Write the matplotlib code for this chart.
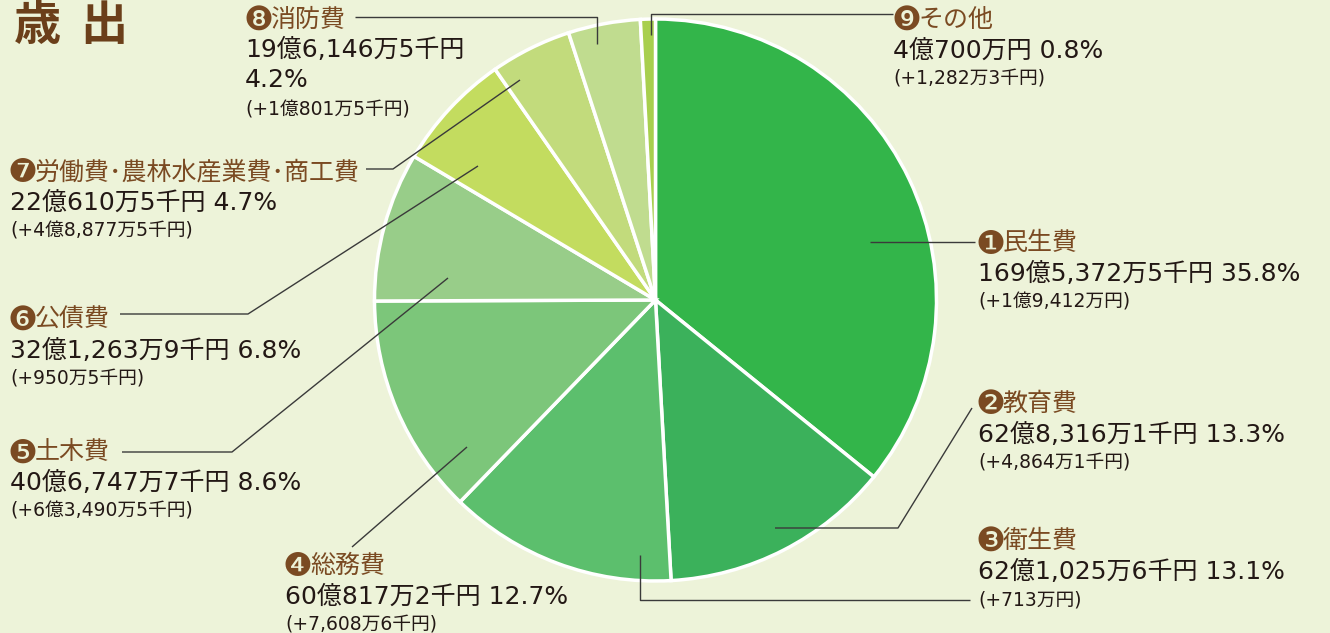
import numpy as np
import matplotlib.pyplot as plt

plt.rcParams["font.family"] = ["Noto Sans CJK JP", "DejaVu Sans"]

# --- data (amounts in 万円) ---
marks = ["❶", "❷", "❸", "❹", "❺", "❻", "❼", "❽", "❾"]
names = ["民生費", "教育費", "衛生費", "総務費", "土木費", "公債費",
         "労働費･農林水産業費･商工費", "消防費", "その他"]
amounts = [1695372.5, 628316.1, 621025.6, 600817.2, 406747.7,
           321263.9, 220610.5, 196146.5, 40700.0]
amount_text = ["169億5,372万5千円", "62億8,316万1千円", "62億1,025万6千円",
               "60億817万2千円", "40億6,747万7千円", "32億1,263万9千円",
               "22億610万5千円", "19億6,146万5千円", "4億700万円"]
percents = ["35.8%", "13.3%", "13.1%", "12.7%", "8.6%", "6.8%", "4.7%", "4.2%", "0.8%"]
changes = ["(+1億9,412万円)", "(+4,864万1千円)", "(+713万円)", "(+7,608万6千円)",
           "(+6億3,490万5千円)", "(+950万5千円)", "(+4億8,877万5千円)",
           "(+1億801万5千円)", "(+1,282万3千円)"]
colors = ["#33B54A", "#3BB15B", "#5CBF6D", "#7CC67A", "#98CD89",
          "#C3DC5F", "#C2DB7C", "#C0DC8F", "#A8CF4E"]

BG = "#EDF3D9"
BROWN = "#7A4A22"
DARK = "#231815"
LINE = "#3a3a3a"
NUMFONT = ["DejaVu Sans", "Noto Sans CJK JP"]

fig = plt.figure(figsize=(13.3, 6.33), dpi=100, facecolor=BG)
ax = fig.add_axes([0, 0, 1, 1])
ax.set_facecolor(BG)

# pie in pixel coordinates (y axis inverted)
cx, cy, r = 655.5, 300, 281
ax.pie(amounts, colors=colors, center=(cx, cy), radius=r,
       startangle=-90, counterclock=True,
       wedgeprops=dict(edgecolor="white", linewidth=2.5))
ax.set_xlim(0, 1330)
ax.set_ylim(633, 0)
ax.set_aspect("equal")
ax.axis("off")

# leader lines
leaders = [
    [(870, 242), (975, 242)],
    [(775, 528), (898, 528), (972, 408)],
    [(640, 555), (640, 600), (970, 600)],
    [(467, 447), (352, 547)],
    [(448, 278), (232, 452), (122, 452)],
    [(478, 166), (248, 314), (120, 314)],
    [(520, 80), (393, 169), (366, 169)],
    [(597, 44), (597, 17), (355, 17)],
    [(651, 35), (651, 14), (893, 14)],
]
for pts in leaders:
    xs, ys = zip(*pts)
    ax.plot(xs, ys, color=LINE, lw=1.0, solid_capstyle="butt")

# label anchor (left x, y of the name line)
anchors = [(978, 243), (978, 404), (978, 541), (285, 566), (10, 452),
           (10, 320), (10, 172), (245, 20), (893, 20)]

for i, (x, y) in enumerate(anchors):
    ax.text(x - 2, y + 1, marks[i], color=BROWN, fontsize=24, va="center", ha="left",
            family=["DejaVu Sans"])
    ax.text(x + 25, y, names[i], color=BROWN, fontsize=18, va="center", ha="left")
    if i == 7:
        ax.text(x, y + 30, amount_text[i], color=DARK, fontsize=18, va="center",
                family=NUMFONT)
        ax.text(x, y + 60, percents[i], color=DARK, fontsize=18, va="center",
                family=NUMFONT)
        ax.text(x, y + 90, changes[i], color=DARK, fontsize=13.5, va="center",
                family=NUMFONT)
    else:
        ax.text(x, y + 31, amount_text[i] + " " + percents[i], color=DARK,
                fontsize=18, va="center", family=NUMFONT)
        ax.text(x, y + 59, changes[i], color=DARK, fontsize=13.5, va="center",
                family=NUMFONT)

ax.text(14, 26, "歳", color="#6B3F1A", fontsize=34, fontweight="bold",
        va="center", ha="left")
ax.text(80, 26, "出", color="#6B3F1A", fontsize=34, fontweight="bold",
        va="center", ha="left")

fig.savefig("out.png", dpi=100, facecolor=BG)
